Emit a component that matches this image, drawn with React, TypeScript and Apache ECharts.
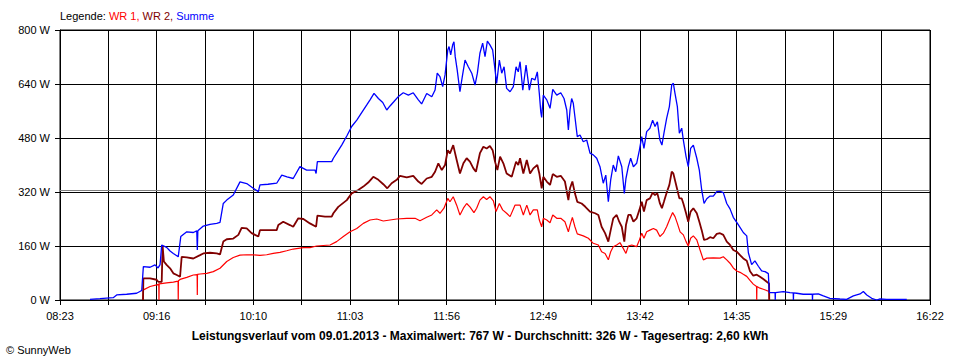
import React, { useEffect, useRef } from "react";
import * as echarts from "echarts";

// time axis: minutes since midnight
const START_MIN = 503; // 08:23
const END_MIN = 982; // 16:22
const xTickLabels = ["08:23", "09:16", "10:10", "11:03", "11:56", "12:49", "13:42", "14:35", "15:29", "16:22"];
const yMax = 800;
const yStep = 160;
const averageW = 326;

const legendParts = ["Legende: ", "WR 1, ", "WR 2, ", "Summe"];
const footerText =
  "Leistungsverlauf vom 09.01.2013 - Maximalwert: 767 W - Durchschnitt: 326 W - Tagesertrag: 2,60 kWh";
const creditText = "© SunnyWeb";

// [minute of day, W]
const summe: [number, number][] = [
  [519.5, 2], [525.0, 4], [532.3, 7], [534.2, 15], [539.7, 17], [545.2, 20], [548.0, 28], [548.9, 99],
  [552.6, 97], [555.3, 104], [557.0, 95], [558.1, 105], [559.0, 163], [561.7, 156], [563.6, 145],
  [565.4, 138], [568.1, 128], [569.5, 188], [572.8, 202], [576.4, 200], [578.3, 205], [578.6, 148],
  [578.9, 205], [581.9, 219], [585.6, 224], [589.3, 227], [591.1, 230], [592.9, 286], [594.8, 296],
  [598.4, 311], [602.1, 350], [605.8, 345], [609.4, 331], [612.2, 321], [613.1, 341], [617.5, 343],
  [622.3, 346], [625.1, 370], [628.0, 365], [631.4, 360], [635.1, 395], [638.8, 385], [643.4, 385],
  [644.0, 375], [644.7, 410], [648.9, 410], [652.6, 410], [653.5, 420], [655.3, 435], [658.1, 459],
  [660.9, 486], [663.6, 514], [666.4, 533], [669.1, 555], [671.9, 578], [673.7, 593], [675.9, 612],
  [678.3, 597], [680.7, 585], [682.9, 563], [684.7, 575], [686.9, 588], [689.5, 604], [692.0, 614],
  [694.8, 607], [697.5, 614], [700.3, 593], [702.1, 581], [704.9, 612], [707.7, 602], [709.5, 622],
  [710.7, 672], [712.2, 662], [713.7, 632], [715.0, 667], [716.5, 741], [717.2, 751], [718.1, 726],
  [719.2, 756], [719.9, 765], [720.6, 721], [721.7, 681], [723.2, 617], [724.5, 662], [726.0, 711],
  [727.8, 691], [729.7, 672], [731.5, 637], [732.8, 672], [734.2, 731], [735.7, 761], [737.0, 721],
  [738.3, 767], [739.7, 756], [741.2, 741], [742.1, 701], [743.4, 642], [744.9, 711], [746.2, 672],
  [747.5, 691], [748.9, 627], [750.8, 617], [752.6, 632], [754.1, 691], [755.3, 676], [756.3, 706],
  [757.8, 622], [759.6, 696], [761.4, 622], [762.7, 657], [764.5, 652], [765.8, 676], [766.9, 612],
  [767.7, 558], [768.2, 541], [769.1, 607], [771.0, 593], [772.8, 568], [774.3, 624], [776.5, 607],
  [778.7, 614], [780.5, 597], [782.0, 563], [782.9, 504], [783.8, 563], [784.7, 597], [785.6, 583],
  [786.5, 543], [787.8, 484], [789.3, 489], [791.1, 469], [793.0, 474], [794.8, 435], [796.6, 430],
  [798.5, 420], [800.3, 395], [802.1, 346], [803.5, 370], [804.9, 291], [806.2, 356], [807.6, 400],
  [809.0, 380], [810.4, 427], [812.3, 395], [813.7, 316], [814.6, 360], [815.9, 395], [817.2, 420],
  [818.7, 395], [820.5, 405], [822.0, 444], [823.3, 484], [824.5, 449], [826.0, 499], [827.8, 509],
  [829.3, 533], [830.6, 514], [831.9, 528], [833.3, 474], [834.4, 459], [835.5, 494], [837.0, 538],
  [838.5, 573], [839.8, 637], [840.7, 642], [841.6, 612], [842.9, 573], [844.0, 494], [845.3, 509],
  [846.2, 474], [847.7, 425], [848.9, 395], [850.2, 449], [851.7, 459], [853.6, 420], [855.0, 385],
  [856.3, 326], [857.6, 286], [859.1, 300], [860.9, 308], [862.7, 308], [864.6, 321], [866.4, 322],
  [868.2, 318], [870.1, 286], [871.9, 270], [873.7, 245], [875.6, 230], [877.4, 215], [879.2, 200],
  [881.1, 190], [882.0, 140], [883.8, 105], [885.6, 116], [887.5, 100], [889.3, 86], [891.2, 84],
  [893.0, 78], [893.5, 22], [896.7, 22], [896.8, 0], [896.9, 22], [901.2, 25], [904.9, 22],
  [906.7, 21], [906.8, 0], [906.9, 21], [908.6, 20], [912.2, 17], [917.2, 17], [917.3, 0],
  [917.4, 17], [920.5, 18], [923.3, 12], [926.9, 5], [932.4, 3], [936.1, 2], [939.8, 12],
  [943.5, 18], [945.3, 25], [947.2, 15], [949.9, 5], [952.7, 0], [954.5, 3], [958.2, 2], [969.2, 2],
];

const wr2: [number, number][] = [
  [548.7, 0], [548.9, 64], [552.6, 64], [556.2, 60], [557.1, 54], [559.0, 54], [559.5, 160], [560.2, 114],
  [561.7, 104], [563.6, 94], [565.4, 79], [567.3, 74], [569.1, 69], [570.0, 128], [572.8, 126],
  [576.4, 123], [580.1, 133], [581.9, 138], [585.6, 140], [589.3, 138], [591.1, 135], [592.9, 173],
  [594.8, 180], [598.4, 182], [601.2, 193], [603.0, 214], [605.8, 212], [608.5, 198], [612.2, 188],
  [613.1, 207], [616.8, 207], [622.3, 207], [623.2, 222], [625.9, 232], [629.6, 222], [631.4, 217],
  [634.2, 242], [637.0, 240], [640.6, 227], [644.0, 217], [644.7, 250], [648.9, 247], [652.6, 247],
  [653.5, 257], [656.2, 276], [660.9, 296], [663.6, 316], [667.2, 326], [670.0, 336], [672.7, 348],
  [675.5, 365], [678.3, 356], [681.0, 343], [683.2, 331], [685.6, 346], [688.4, 356], [690.2, 368],
  [693.9, 363], [697.5, 368], [700.3, 351], [702.1, 344], [704.9, 360], [707.7, 365], [709.5, 380],
  [711.3, 405], [713.2, 385], [715.0, 400], [716.5, 444], [717.7, 434], [719.5, 459], [721.4, 415],
  [723.2, 375], [725.1, 405], [726.9, 420], [728.7, 410], [730.6, 390], [732.0, 380], [734.2, 435],
  [736.1, 454], [737.9, 449], [739.7, 456], [741.2, 444], [742.5, 410], [743.8, 385], [745.3, 425],
  [747.1, 405], [748.9, 375], [751.7, 365], [754.1, 410], [755.3, 400], [756.3, 420], [758.1, 375],
  [760.0, 415], [761.8, 375], [763.6, 390], [765.8, 400], [766.9, 375], [768.2, 331], [769.1, 365],
  [771.0, 351], [772.8, 341], [774.3, 373], [776.5, 365], [778.7, 368], [781.0, 351], [782.9, 296],
  [783.8, 331], [785.1, 351], [786.5, 316], [787.8, 291], [790.2, 286], [792.1, 277], [794.8, 262],
  [797.6, 257], [799.4, 252], [801.2, 217], [803.1, 198], [804.9, 173], [806.2, 207], [807.6, 242],
  [809.5, 252], [810.9, 232], [812.3, 217], [813.7, 173], [814.6, 222], [815.9, 252], [817.2, 252],
  [818.7, 232], [820.5, 242], [822.0, 267], [823.3, 291], [824.5, 262], [826.0, 296], [827.8, 301],
  [829.3, 318], [830.6, 311], [831.9, 316], [833.3, 286], [834.4, 272], [835.5, 291], [837.0, 318],
  [838.5, 341], [839.8, 380], [840.7, 375], [841.6, 355], [842.9, 326], [844.0, 301], [845.3, 301],
  [846.2, 286], [847.7, 257], [848.9, 232], [850.2, 262], [851.7, 272], [853.6, 257], [855.0, 232],
  [856.3, 207], [857.6, 178], [859.1, 180], [860.9, 186], [862.7, 183], [864.6, 196], [866.4, 198],
  [868.2, 193], [870.1, 173], [871.9, 163], [873.7, 148], [875.6, 143], [877.4, 133], [879.2, 123],
  [881.1, 116], [882.9, 85], [884.7, 72], [886.6, 75], [888.4, 69], [890.2, 62], [892.1, 54],
  [893.4, 49], [893.5, 0],
];

const wr1: [number, number][] = [
  [548.7, 0], [548.9, 30], [552.6, 40], [556.2, 45], [557.4, 47], [557.5, 0], [557.6, 48], [561.7, 51],
  [565.4, 53], [568.0, 56], [568.1, 0], [568.2, 57], [569.1, 61], [572.8, 67], [576.4, 74], [578.5, 75],
  [578.6, 15], [578.7, 76], [580.1, 77], [583.8, 79], [587.4, 84], [591.1, 94], [594.8, 114],
  [598.4, 126], [602.1, 133], [605.8, 134], [609.4, 134], [613.1, 132], [616.8, 134], [620.4, 138],
  [624.1, 141], [627.8, 146], [631.4, 151], [637.0, 155], [640.6, 155], [644.3, 160], [651.7, 163],
  [655.3, 173], [659.0, 188], [662.7, 202], [666.4, 212], [670.0, 227], [673.7, 237], [677.4, 240],
  [681.0, 234], [684.7, 237], [688.4, 240], [693.9, 242], [698.5, 242], [701.2, 235], [704.9, 245],
  [707.7, 252], [710.4, 267], [712.2, 257], [714.4, 272], [716.5, 301], [717.7, 291], [719.5, 306],
  [721.4, 281], [723.2, 252], [725.1, 272], [726.9, 286], [728.7, 276], [730.9, 259], [732.4, 272],
  [734.2, 296], [736.1, 306], [737.9, 298], [739.7, 306], [741.6, 294], [743.1, 262], [744.9, 286],
  [746.7, 267], [748.9, 257], [750.8, 247], [753.5, 281], [756.3, 281], [758.1, 252], [760.0, 281],
  [761.8, 252], [763.6, 267], [765.8, 267], [766.9, 237], [768.2, 217], [769.1, 242], [771.0, 237],
  [772.8, 229], [774.3, 252], [776.5, 242], [778.7, 242], [781.0, 232], [782.9, 202], [783.8, 222],
  [785.1, 245], [786.5, 217], [787.8, 196], [791.1, 190], [793.9, 183], [796.6, 168], [799.4, 163],
  [801.2, 143], [803.1, 138], [804.9, 119], [806.2, 143], [807.6, 158], [809.5, 163], [811.3, 170],
  [813.1, 153], [814.6, 138], [815.9, 160], [817.8, 163], [820.5, 158], [822.0, 178], [823.3, 198],
  [824.5, 183], [826.0, 202], [827.8, 207], [829.7, 212], [831.5, 207], [833.3, 188], [835.2, 198],
  [837.0, 217], [838.9, 242], [840.3, 259], [841.6, 247], [842.9, 227], [844.4, 202], [846.2, 193],
  [847.7, 173], [848.9, 160], [850.2, 183], [851.7, 190], [853.6, 178], [855.4, 148], [857.2, 119],
  [859.1, 124], [862.7, 125], [866.4, 124], [868.2, 128], [870.1, 119], [871.9, 109], [873.7, 95],
  [875.6, 86], [877.4, 82], [879.2, 76], [881.1, 70], [882.9, 58], [884.7, 47], [886.5, 40],
  [886.6, 0], [886.7, 40], [888.4, 35], [890.2, 32], [892.1, 28], [893.4, 26], [893.5, 0],
];

const COLORS = { wr1: "#ff0000", wr2: "#800000", summe: "#0000ff", avg: "#808080" };
const FONT = "'Liberation Sans', Arial, sans-serif";

export default function App() {
  const ref = useRef<HTMLDivElement>(null);

  useEffect(() => {
    document.body.style.margin = "0";
    const chart = echarts.init(ref.current!, null, { renderer: "svg" });
    const span = END_MIN - START_MIN;
    const step = span / 18;
    const toPts = (arr: [number, number][]) => arr.map(([t, w]) => [t - START_MIN, w]);
    const richBase = { fontSize: 11, fontFamily: FONT, fontWeight: "normal" as const };

    chart.setOption({
      animation: false,
      backgroundColor: "#ffffff",
      textStyle: { fontFamily: FONT },
      title: [
        {
          text: `{k|${legendParts[0]}}{r|${legendParts[1]}}{m|${legendParts[2]}}{b|${legendParts[3]}}`,
          left: 60,
          top: 10,
          padding: 0,
          textStyle: {
            fontSize: 11,
            fontWeight: "normal",
            fontFamily: FONT,
            rich: {
              k: { ...richBase, color: "#000" },
              r: { ...richBase, color: COLORS.wr1 },
              m: { ...richBase, color: COLORS.wr2 },
              b: { ...richBase, color: COLORS.summe },
            },
          },
        },
        {
          text: footerText,
          left: "center",
          top: 330,
          padding: 0,
          textStyle: { fontSize: 12, fontWeight: "bold", color: "#000", fontFamily: FONT },
        },
        {
          text: creditText,
          left: 6,
          top: 344,
          padding: 0,
          textStyle: { fontSize: 11, fontWeight: "normal", color: "#000", fontFamily: FONT },
        },
      ],
      grid: {
        left: 60,
        right: 30,
        top: 30,
        bottom: 60,
        show: true,
        borderColor: "#000",
        borderWidth: 1,
        backgroundColor: "transparent",
      },
      xAxis: {
        type: "value",
        min: 0,
        max: span,
        interval: step,
        axisLine: { show: true, lineStyle: { color: "#000", width: 1 } },
        axisTick: { show: true, length: 5, lineStyle: { color: "#000" } },
        splitLine: { show: true, lineStyle: { color: "#000", width: 1 } },
        axisLabel: {
          margin: 10,
          color: "#000",
          fontSize: 11,
          fontFamily: FONT,
          formatter: (v: number) => {
            const i = Math.round(v / step);
            return i % 2 === 0 ? xTickLabels[i / 2] ?? "" : "";
          },
        },
      },
      yAxis: {
        type: "value",
        min: 0,
        max: yMax,
        interval: yStep,
        axisLine: { show: true, lineStyle: { color: "#000", width: 1 } },
        axisTick: { show: true, length: 5, lineStyle: { color: "#000" } },
        splitLine: { show: true, lineStyle: { color: "#000", width: 1 } },
        axisLabel: {
          margin: 10,
          color: "#000",
          fontSize: 11,
          fontFamily: FONT,
          formatter: "{value} W",
        },
      },
      series: [
        {
          name: "WR 1",
          type: "line",
          data: toPts(wr1),
          showSymbol: false,
          lineStyle: { color: COLORS.wr1, width: 1.2 },
          itemStyle: { color: COLORS.wr1 },
          z: 3,
        },
        {
          name: "WR 2",
          type: "line",
          data: toPts(wr2),
          showSymbol: false,
          lineStyle: { color: COLORS.wr2, width: 1.8 },
          itemStyle: { color: COLORS.wr2 },
          z: 4,
        },
        {
          name: "Summe",
          type: "line",
          data: toPts(summe),
          showSymbol: false,
          lineStyle: { color: COLORS.summe, width: 1.3 },
          itemStyle: { color: COLORS.summe },
          z: 5,
          markLine: {
            silent: true,
            symbol: "none",
            label: { show: false },
            lineStyle: { color: COLORS.avg, type: "solid", width: 1 },
            data: [{ yAxis: averageW }],
          },
        },
      ],
    });

    return () => chart.dispose();
  }, []);

  return (
    <div
      ref={ref}
      style={{ position: "fixed", left: 0, top: 0, width: 960, height: 360, background: "#fff" }}
    />
  );
}
